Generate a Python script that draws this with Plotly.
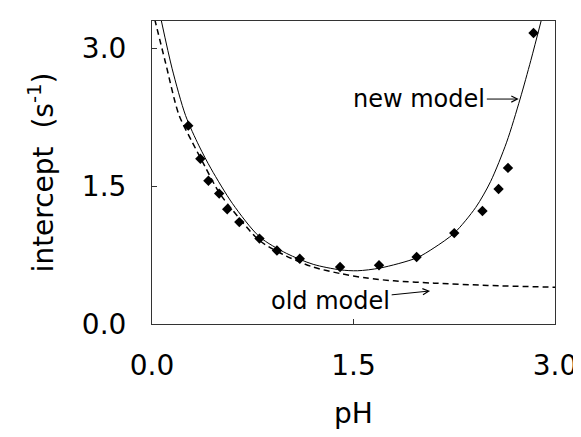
import plotly.graph_objects as go

# measured data (pH, intercept s^-1)
ph_data = [0.27, 0.36, 0.42, 0.50, 0.56, 0.65, 0.80, 0.93, 1.10, 1.40,
           1.69, 1.97, 2.25, 2.46, 2.58, 2.65, 2.84]
intercept_data = [2.16, 1.80, 1.56, 1.42, 1.25, 1.11, 0.93, 0.80, 0.71, 0.62,
                  0.64, 0.73, 0.99, 1.23, 1.47, 1.70, 3.17]

# new model curve (solid)
new_x = [0.07, 0.15, 0.25, 0.35, 0.44, 0.60, 0.80, 1.00, 1.20, 1.40, 1.53,
         1.70, 1.97, 2.10, 2.25, 2.41, 2.52, 2.64, 2.74, 2.82, 2.90]
new_y = [3.30, 2.78, 2.27, 1.94, 1.69, 1.31, 0.95, 0.77, 0.65, 0.59, 0.58,
         0.61, 0.72, 0.83, 0.99, 1.27, 1.55, 1.98, 2.45, 2.87, 3.32]

# old model curve (dashed)
old_x = [0.02, 0.10, 0.20, 0.30, 0.40, 0.50, 0.60, 0.80, 1.00, 1.20, 1.40,
         1.60, 1.80, 2.10, 2.50, 3.00]
old_y = [3.32, 2.85, 2.28, 1.98, 1.70, 1.43, 1.24, 0.91, 0.74, 0.62, 0.55,
         0.50, 0.47, 0.445, 0.42, 0.40]

tick_vals = [0.0, 1.5, 3.0]
tick_text = ["0.0", "1.5", "3.0"]

FONT = "DejaVu Sans"

fig = go.Figure()
fig.add_trace(go.Scatter(x=new_x, y=new_y, mode="lines",
                         line=dict(color="black", width=1, shape="spline", smoothing=0.8),
                         showlegend=False, name="new model"))
fig.add_trace(go.Scatter(x=old_x, y=old_y, mode="lines",
                         line=dict(color="black", width=1.5, dash="6px,4px",
                                   shape="spline", smoothing=0.8),
                         showlegend=False, name="old model"))
fig.add_trace(go.Scatter(x=ph_data, y=intercept_data, mode="markers",
                         marker=dict(symbol="diamond", size=8, color="black"),
                         showlegend=False, name="data"))

# annotations: text sits at the arrow tail, arrow points to the curve
fig.add_annotation(x=2.73, y=2.45, ax=1.99, ay=2.45, axref="x", ayref="y",
                   text="new model", showarrow=True, arrowhead=5, arrowsize=1.2,
                   arrowwidth=1, arrowcolor="black",
                   font=dict(family=FONT, size=24, color="black"))
fig.add_annotation(x=2.07, y=0.36, ax=1.33, ay=0.25, axref="x", ayref="y",
                   text="old model", showarrow=True, arrowhead=5, arrowsize=1.2,
                   arrowwidth=1, arrowcolor="black",
                   font=dict(family=FONT, size=24, color="black"))

axis_common = dict(showgrid=False, zeroline=False, showline=True, mirror=True,
                   linecolor="#333", linewidth=1, ticks="inside", ticklen=5,
                   tickcolor="#333", tickfont=dict(family=FONT, size=28, color="black"),
                   tickvals=tick_vals, ticktext=tick_text)

fig.update_xaxes(range=[0, 3.0], title=dict(text="pH", standoff=22,
                 font=dict(family=FONT, size=28, color="black")),
                 ticklabelstandoff=16, **axis_common)
fig.update_yaxes(range=[0, 3.3], title=dict(text="intercept  (s<sup>-1</sup>)", standoff=20,
                 font=dict(family=FONT, size=28, color="black")),
                 ticklabelstandoff=19, **axis_common)

fig.update_layout(width=581, height=437, margin=dict(l=144, r=26, t=13, b=121),
                  paper_bgcolor="white", plot_bgcolor="white")

fig.write_html("out.html")
